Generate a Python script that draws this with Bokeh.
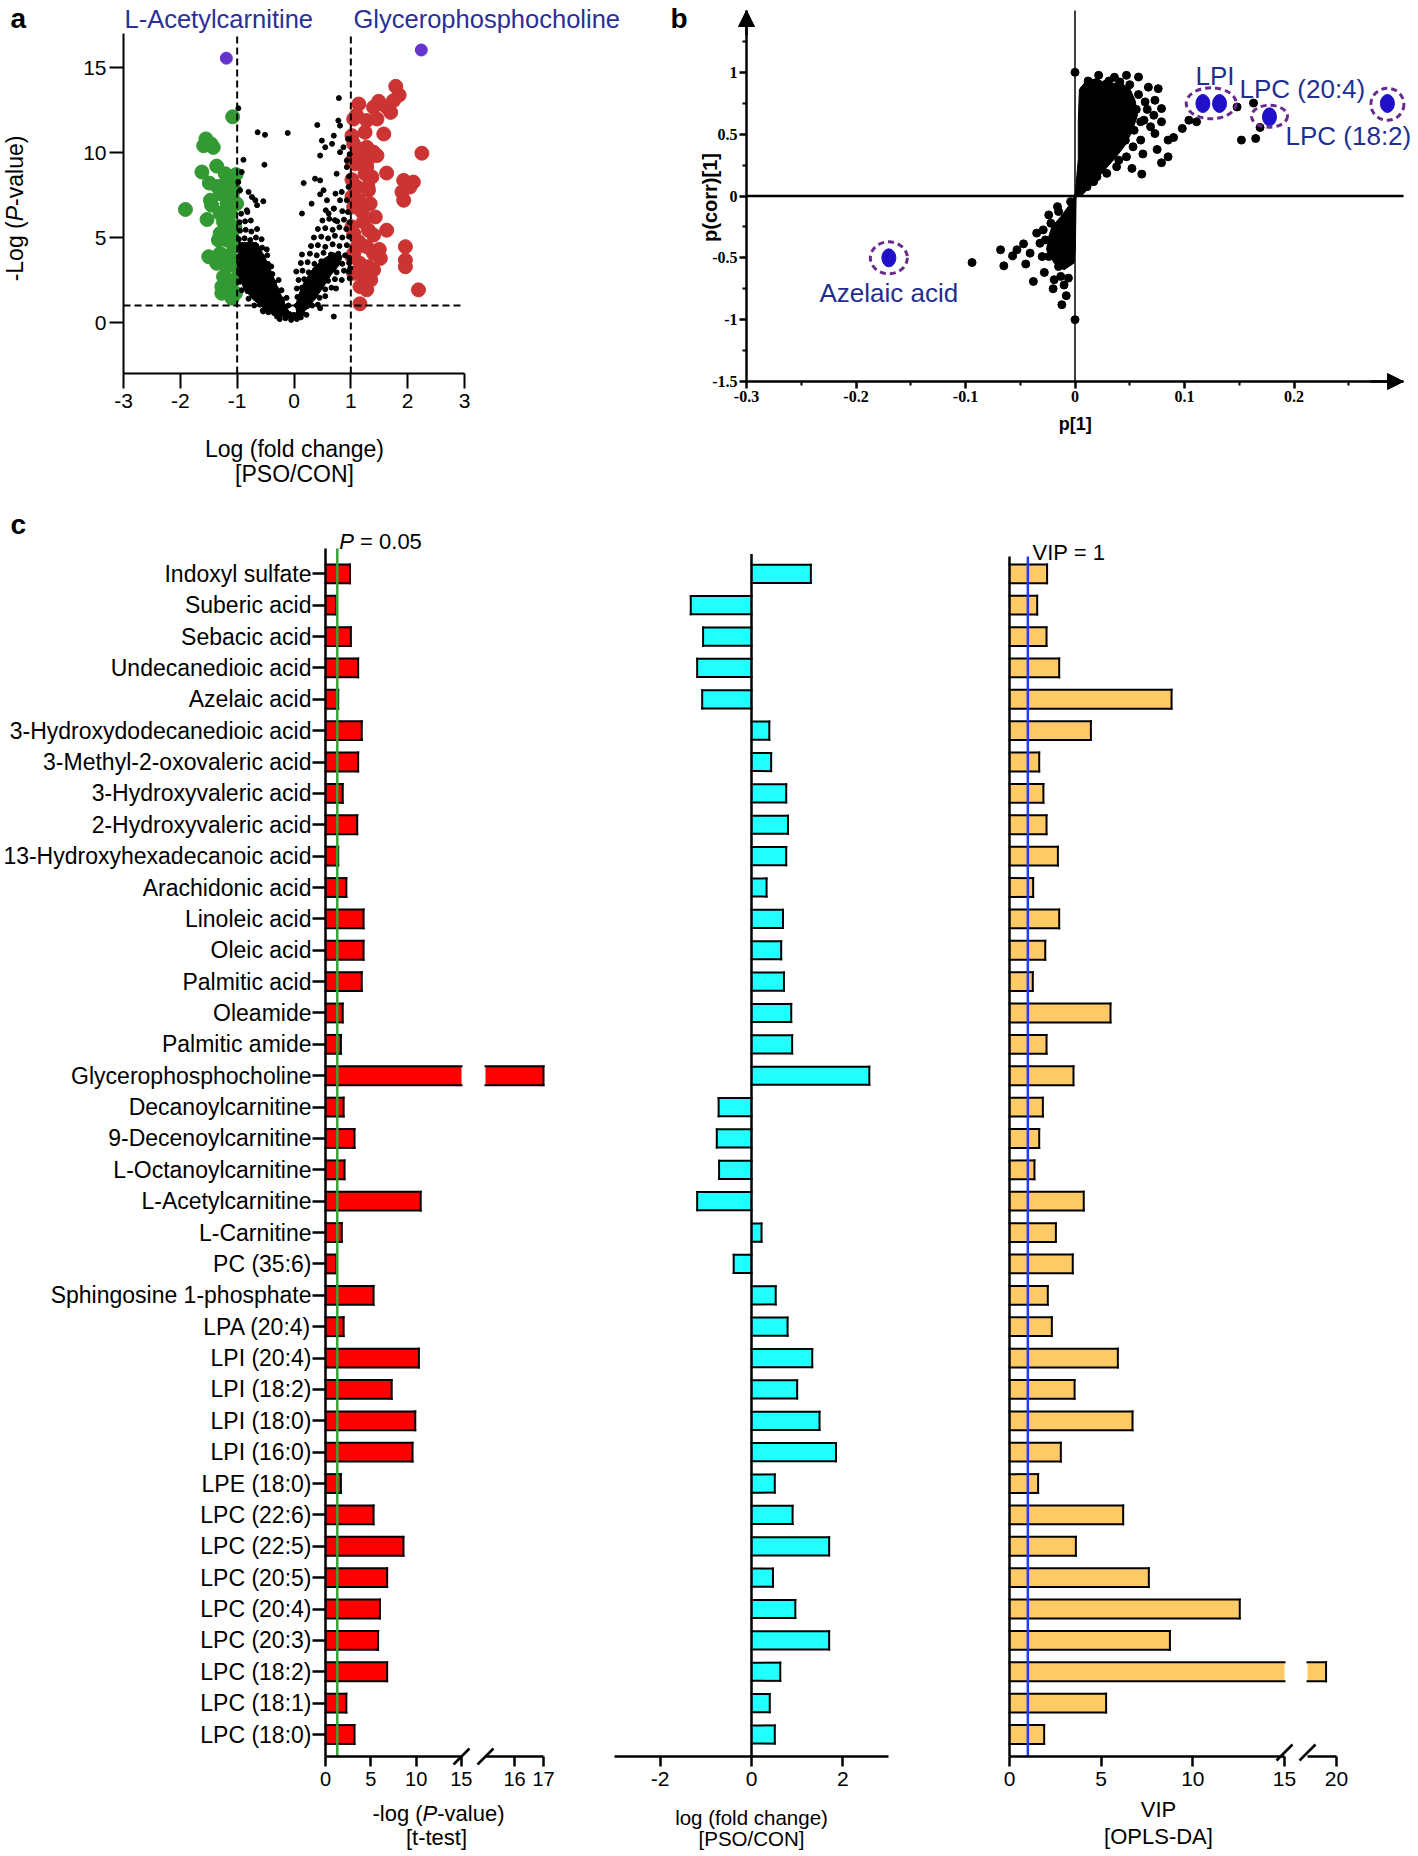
import math
from bokeh.plotting import figure
from bokeh.layouts import row, column
from bokeh.models import (Range1d, FixedTicker, Label, Arrow, NormalHead, ColumnDataSource,
                          CDSView, BooleanFilter)
from bokeh.transform import dodge
from bokeh.embed import file_html
from bokeh.resources import INLINE

SANS = "Liberation Sans"
NARROW = "Liberation Sans Narrow"

# ===================== DATA =====================
# ---- panel a : volcano plot ----
a_xticks = [-3, -2, -1, 0, 1, 2, 3]
a_yticks = [0, 5, 10, 15]
a_fc_cut = 1.0          # |log fold change| threshold
a_p_cut = 1.0           # -log p threshold line
a_green = [(-1.08, 12.1), (-1.55, 10.8), (-1.46, 10.5), (-1.59, 10.4), (-1.42, 10.3), (-1.36, 9.2),
           (-1.62, 8.85), (-1.21, 8.75), (-1.02, 8.7), (-1.49, 8.2), (-1.15, 8.26), (-1.91, 6.65),
           (-1.47, 7.19), (-1.30, 7.58), (-1.09, 7.38), (-1.01, 6.99), (-1.53, 6.06), (-1.30, 6.41),
           (-1.12, 6.41), (-1.24, 5.92), (-1.04, 5.63), (-1.33, 4.85), (-1.18, 4.85), (-1.06, 4.46),
           (-1.50, 3.87), (-1.30, 4.06), (-1.12, 3.77), (-1.36, 3.48), (-1.18, 3.28), (-1.01, 3.28),
           (-1.24, 2.70), (-1.06, 2.50), (-1.27, 2.11), (-1.12, 2.01), (-1.27, 1.72), (-1.03, 1.72),
           (-1.06, 4.85), (-1.45, 6.90), (-1.18, 6.99), (-1.30, 5.24), (-1.09, 1.43), (-1.18, 5.63),
           (-1.20, 8.2), (-1.10, 5.3), (-1.20, 3.9), (-1.05, 7.8), (-1.35, 8.0)]
a_red = [(1.79, 13.89), (1.85, 13.38), (1.75, 13.05), (1.49, 13.01), (1.63, 12.66), (1.14, 12.85),
         (1.40, 12.66), (1.70, 12.36), (1.05, 11.97), (1.28, 11.88), (1.46, 11.97), (1.25, 11.19),
         (1.58, 11.09), (1.02, 10.99), (1.05, 10.51), (1.28, 10.31), (1.40, 10.02), (1.46, 9.82),
         (1.14, 9.92), (1.31, 9.63), (2.25, 9.96), (1.08, 9.34), (1.28, 9.14), (1.63, 8.79),
         (1.93, 8.36), (2.10, 8.26), (2.04, 7.97), (1.90, 7.68), (1.93, 7.19), (1.25, 8.75),
         (1.37, 8.56), (1.11, 7.97), (1.31, 7.78), (1.14, 7.19), (1.34, 6.99), (1.05, 6.80),
         (1.43, 6.21), (1.22, 5.92), (1.31, 5.43), (1.63, 5.43), (1.05, 5.24), (1.40, 5.14),
         (1.14, 4.75), (1.28, 4.46), (1.40, 4.06), (1.05, 4.06), (1.52, 3.77), (1.96, 4.46),
         (1.96, 3.67), (1.96, 3.28), (1.16, 3.48), (1.31, 3.28), (1.05, 2.89), (1.22, 2.70),
         (1.40, 3.09), (1.16, 2.11), (1.28, 1.92), (2.19, 1.92), (1.16, 1.10), (1.02, 3.87),
         (1.02, 5.63), (1.20, 10.0), (1.30, 8.0), (1.20, 6.5), (1.10, 4.4), (1.35, 2.5),
         (1.50, 4.3), (1.02, 9.5), (1.02, 8.4), (1.02, 7.4), (1.10, 12.2)]
a_black = [
    (-0.25, 0.2), (-0.15, 0.25), (-0.05, 0.15), (0.05, 0.2), (0.12, 0.3), (-0.3, 0.35),
    (-0.45, 0.6), (-0.35, 0.55), (-0.25, 0.65), (-0.15, 0.6), (-0.08, 0.5), (0.0, 0.45), (-0.55, 0.7),
    (-0.7, 1.0), (-0.6, 1.05), (-0.5, 0.95), (-0.4, 1.0), (-0.3, 1.1), (-0.2, 0.95), (-0.1, 1.0),
    (-0.8, 1.4), (-0.7, 1.5), (-0.6, 1.35), (-0.5, 1.45), (-0.4, 1.4), (-0.3, 1.5), (-0.2, 1.35), (-0.13, 1.45),
    (-0.92, 1.9), (-0.82, 1.85), (-0.72, 2.0), (-0.62, 1.9), (-0.52, 1.95), (-0.42, 1.85), (-0.32, 2.0), (-0.22, 1.9),
    (-0.95, 2.4), (-0.85, 2.45), (-0.75, 2.35), (-0.65, 2.5), (-0.55, 2.4), (-0.45, 2.45), (-0.35, 2.35), (-0.27, 2.5),
    (-0.97, 2.9), (-0.87, 2.95), (-0.77, 2.85), (-0.67, 3.0), (-0.57, 2.9), (-0.47, 2.95), (-0.38, 2.85),
    (-0.96, 3.4), (-0.86, 3.45), (-0.76, 3.35), (-0.66, 3.5), (-0.56, 3.4), (-0.46, 3.45), (-0.40, 3.3),
    (-0.97, 3.9), (-0.87, 3.95), (-0.77, 3.85), (-0.67, 4.0), (-0.57, 3.9), (-0.47, 3.95),
    (-0.96, 4.4), (-0.86, 4.45), (-0.76, 4.35), (-0.66, 4.5), (-0.56, 4.4), (-0.48, 4.3),
    (-0.97, 4.9), (-0.87, 4.95), (-0.77, 4.85), (-0.67, 5.0), (-0.57, 4.9),
    (-0.95, 5.4), (-0.85, 5.45), (-0.75, 5.35), (-0.65, 5.5),
    (-0.96, 5.9), (-0.86, 5.95), (-0.76, 6.0), (-0.93, 6.4), (-0.82, 6.5),
    (0.08, 0.5), (0.15, 0.55), (0.22, 0.45),
    (0.05, 1.0), (0.14, 1.05), (0.23, 0.95), (0.32, 1.0), (0.42, 1.05),
    (0.06, 1.5), (0.15, 1.45), (0.25, 1.55), (0.35, 1.5), (0.45, 1.45), (0.55, 1.55),
    (0.05, 2.0), (0.14, 2.05), (0.24, 1.95), (0.34, 2.0), (0.44, 2.1), (0.55, 1.95), (0.66, 2.05), (0.74, 2.0),
    (0.08, 2.5), (0.18, 2.55), (0.28, 2.45), (0.38, 2.5), (0.48, 2.6), (0.6, 2.45), (0.72, 2.55), (0.84, 2.5),
    (0.04, 3.0), (0.15, 3.05), (0.26, 2.95), (0.37, 3.1), (0.5, 3.0), (0.62, 3.05), (0.75, 2.95), (0.88, 3.05), (0.96, 3.0),
    (0.12, 3.5), (0.24, 3.55), (0.36, 3.45), (0.48, 3.6), (0.6, 3.5), (0.72, 3.55), (0.85, 3.45), (0.97, 3.5),
    (0.14, 4.0), (0.28, 4.05), (0.4, 3.95), (0.52, 4.1), (0.65, 4.0), (0.78, 4.05), (0.9, 3.95),
    (0.3, 4.5), (0.42, 4.55), (0.55, 4.45), (0.68, 4.6), (0.8, 4.5), (0.93, 4.55),
    (0.35, 5.0), (0.48, 5.05), (0.6, 4.95), (0.72, 5.1), (0.85, 5.0), (0.97, 5.05),
    (0.42, 5.5), (0.55, 5.55), (0.68, 5.45), (0.8, 5.6), (0.92, 5.5),
    (0.5, 6.0), (0.62, 6.1), (0.76, 5.95), (0.88, 6.05), (0.56, 6.6), (0.7, 6.7), (0.85, 6.55),
    (0.98, 2.6), (0.99, 3.2), (0.97, 3.8),
    (-0.98, 12.6), (-0.64, 11.19), (-0.51, 11.04), (-0.11, 11.15), (-0.52, 9.28), (0.41, 11.62),
    (0.79, 13.2), (0.78, 11.88), (0.81, 11.58), (-0.89, 9.57), (-0.92, 8.85), (-0.98, 8.26),
    (-0.95, 7.78), (-0.80, 7.68), (-0.74, 7.38), (-0.68, 7.19), (-0.54, 7.13), (-0.65, 6.90),
    (-0.83, 6.60), (0.17, 8.20), (0.37, 8.46), (0.46, 8.36), (0.52, 7.78), (0.31, 6.99),
    (0.14, 6.41), (0.46, 7.54), (0.58, 7.19), (0.70, 6.70), (0.61, 6.41), (0.81, 7.19),
    (0.72, 6.02), (0.49, 10.70), (0.55, 10.31), (0.67, 10.51), (0.70, 10.99), (0.81, 10.02),
    (0.87, 10.31), (0.93, 9.53), (0.46, 9.82), (0.75, 8.75), (0.93, 9.14), (0.96, 7.97),
    (0.93, 7.19), (0.73, 7.58), (0.84, 7.68), (-0.54, 0.65), (0.46, 0.84), (0.70, 0.35),
    (0.95, 10.8), (0.98, 9.9), (0.97, 8.6), (0.95, 6.5), (0.98, 5.9)]
a_core_left = [(-0.97, 4.7), (-0.66, 4.7), (-0.52, 3.9), (-0.40, 3.0), (-0.28, 2.0), (-0.16, 1.1),
               (-0.06, 0.45), (0.06, 0.2), (0.10, 0.45), (0.02, 0.25), (-0.12, 0.25), (-0.32, 0.45),
               (-0.52, 0.8), (-0.72, 1.35), (-0.88, 2.0), (-0.97, 2.7)]
a_core_right = [(0.05, 0.5), (0.2, 0.7), (0.35, 1.3), (0.5, 2.0), (0.65, 2.8), (0.8, 3.4), (0.85, 3.9),
                (0.7, 4.1), (0.5, 3.7), (0.32, 3.1), (0.18, 2.4), (0.08, 1.6), (0.03, 1.0)]
a_top_x = [-1.19, 2.24]
a_top_y = [15.55, 16.03]
a_top_names = ["L-Acetylcarnitine", "Glycerophosphocholine"]

# ---- panel b : S-plot ----
b_xticks = [-0.3, -0.2, -0.1, 0, 0.1, 0.2]
b_xminor = [-0.25, -0.15, -0.05, 0.05, 0.15, 0.25]
b_yticks = [-1.5, -1, -0.5, 0, 0.5, 1]
b_yminor = [-1.25, -0.75, -0.25, 0.25, 0.75, 1.25]
b_pts = [(0.0, 1.0), (0.0, -1.0), (-0.094, -0.538), (-0.068, -0.435), (-0.065, -0.565), (-0.057, -0.484),
         (-0.047, -0.387), (-0.053, -0.435), (-0.038, -0.691), (-0.028, -0.618), (-0.019, -0.677),
         (-0.012, -0.879), (-0.008, -0.806), (-0.006, -0.664), (-0.013, -0.650), (-0.024, -0.153),
         (-0.029, -0.274), (-0.032, -0.382), (-0.030, -0.49), (-0.015, -0.126), (-0.004, -0.046),
         (-0.041, -0.462), (0.0216, 0.976), (0.029, 0.909), (0.047, 0.976), (0.058, 0.962),
         (0.041, 0.922), (0.076, 0.868), (0.073, 0.774), (0.064, 0.761), (0.079, 0.707), (0.072, 0.653),
         (0.079, 0.600), (0.063, 0.613), (0.073, 0.505), (0.085, 0.452), (0.090, 0.473), (0.075, 0.376),
         (0.085, 0.317), (0.079, 0.269), (0.061, 0.177), (0.052, 0.223), (0.060, 0.452), (0.054, 0.532),
         (0.098, 0.546), (0.104, 0.613), (0.111, 0.600), (0.148, 0.720), (0.152, 0.452), (0.163, 0.752),
         (0.165, 0.465), (0.169, 0.554), (0.040, 0.290), (0.029, 0.183), (0.017, 0.116), (0.008, 0.855),
         (0.010, 0.747), (0.017, 0.828), (0.026, 0.774), (0.035, 0.693), (0.044, 0.613), (0.050, 0.532),
         (0.053, 0.398), (0.047, 0.317), (0.038, 0.237), (0.020, 0.156), (0.011, 0.075),
         (-0.016, -0.086), (-0.022, -0.220), (-0.027, -0.355), (-0.024, -0.489), (-0.015, -0.570),
         (-0.004, -0.516), (0.066, 0.70), (0.058, 0.82), (0.069, 0.56), (0.062, 0.34), (0.031, 0.93),
         (0.012, 0.93), (-0.035, -0.30), (-0.020, -0.75), (-0.045, -0.55), (-0.010, -0.72),
         (0.036, 0.96), (0.050, 0.90), (0.044, 0.86), (0.067, 0.88), (0.056, 0.70), (0.060, 0.60),
         (0.046, 0.45), (0.032, 0.35), (0.024, 0.26), (0.014, 0.20), (0.006, 0.12)]
b_core_pos = [(0.0, -0.01), (0.003, 0.30), (0.003, 0.60), (0.004, 0.86), (0.010, 0.93), (0.020, 0.95),
              (0.030, 0.90), (0.040, 0.92), (0.050, 0.87), (0.055, 0.77), (0.057, 0.65), (0.052, 0.52),
              (0.045, 0.40), (0.036, 0.30), (0.026, 0.20), (0.016, 0.10), (0.007, 0.01)]
b_core_neg = [(0.0003, 0.0215), (-0.004, -0.059), (-0.013, -0.167), (-0.021, -0.247), (-0.024, -0.328),
              (-0.026, -0.435), (-0.019, -0.543), (-0.010, -0.597), (-0.001, -0.543), (0.0003, -0.435),
              (0.001, -0.005)]
b_hl_x = [-0.170, 0.1168, 0.132, 0.1776, 0.2853]
b_hl_y = [-0.50, 0.748, 0.748, 0.64, 0.748]
b_ring_x = [-0.170, 0.1244, 0.1776, 0.2853]
b_ring_y = [-0.50, 0.75, 0.645, 0.742]
b_names = ["Azelaic acid", "LPI", "LPC (20:4)", "LPC (18:2)"]

# ---- panel c : bar charts ----
metabolites = ["Indoxyl sulfate", "Suberic acid", "Sebacic acid", "Undecanedioic acid", "Azelaic acid",
               "3-Hydroxydodecanedioic acid", "3-Methyl-2-oxovaleric acid", "3-Hydroxyvaleric acid",
               "2-Hydroxyvaleric acid", "13-Hydroxyhexadecanoic acid", "Arachidonic acid", "Linoleic acid",
               "Oleic acid", "Palmitic acid", "Oleamide", "Palmitic amide", "Glycerophosphocholine",
               "Decanoylcarnitine", "9-Decenoylcarnitine", "L-Octanoylcarnitine", "L-Acetylcarnitine",
               "L-Carnitine", "PC (35:6)", "Sphingosine 1-phosphate", "LPA (20:4)", "LPI (20:4)",
               "LPI (18:2)", "LPI (18:0)", "LPI (16:0)", "LPE (18:0)", "LPC (22:6)", "LPC (22:5)",
               "LPC (20:5)", "LPC (20:4)", "LPC (20:3)", "LPC (18:2)", "LPC (18:1)", "LPC (18:0)"]
neglog_p = [2.7, 1.2, 2.8, 3.6, 1.4, 4.0, 3.6, 1.9, 3.5, 1.4, 2.3, 4.2, 4.2, 4.0, 1.9, 1.7, 17.0,
            2.0, 3.2, 2.1, 10.5, 1.8, 1.2, 5.3, 2.0, 10.3, 7.3, 9.9, 9.6, 1.7, 5.3, 8.6, 6.8, 6.0,
            5.8, 6.8, 2.3, 3.2]
log_fc = [1.30, -1.33, -1.06, -1.19, -1.08, 0.39, 0.43, 0.76, 0.80, 0.76, 0.33, 0.69, 0.65, 0.71,
          0.87, 0.89, 2.58, -0.72, -0.76, -0.71, -1.19, 0.22, -0.39, 0.53, 0.79, 1.33, 1.00, 1.49,
          1.85, 0.51, 0.90, 1.70, 0.47, 0.96, 1.70, 0.63, 0.40, 0.51]
vip = [2.05, 1.51, 2.02, 2.71, 8.84, 4.44, 1.62, 1.85, 2.02, 2.64, 1.29, 2.71, 1.95, 1.27, 5.51, 2.02,
       3.49, 1.82, 1.62, 1.36, 4.05, 2.53, 3.45, 2.09, 2.31, 5.91, 3.55, 6.71, 2.80, 1.56, 6.20, 3.62,
       7.60, 12.56, 8.75, 18.2, 5.27, 1.89]
p_threshold = 1.3     # -log10(0.05)
vip_threshold = 1.0
t_break, t_max = 15, 17
vip_break, vip_max = 15, 20
t_ticks_1, t_ticks_2 = [0, 5, 10, 15], [16, 17]
fc_ticks = [-2, 0, 2]
vip_ticks_1, vip_ticks_2 = [0, 5, 10, 15], [20]

# ===================== HELPERS =====================
NAVY = "#2b2f96"
NAVY_B = "#1f2f8f"
CW = {' ': 0.278, '-': 0.333, '(': 0.333, ')': 0.333, '[': 0.278, ']': 0.278, '/': 0.278, '=': 0.584,
      '.': 0.278, 'L': 0.556, 'o': 0.556, 'g': 0.556, 'l': 0.222, 'v': 0.5, 'a': 0.556, 'u': 0.556,
      'e': 0.556, 'P': 0.667, 't': 0.278, 's': 0.5, '0': 0.556, '5': 0.556, '1': 0.556}


def tw(s, size):
    return sum(CW.get(ch, 0.556) for ch in s) * size


class Map:
    """linear value <-> page-pixel map used to set ranges of full-canvas frames"""
    def __init__(self, v0, p0, v1, p1):
        self.v0, self.p0 = v0, p0
        self.s = (p1 - p0) / (v1 - v0)

    def val(self, px):
        return self.v0 + (px - self.p0) / self.s

    def rng(self, pa, pb):
        a, b = self.val(pa), self.val(pb)
        return Range1d(min(a, b), max(a, b))


def txt(p, fr, rx, ry, text, size, style="normal", color="black", align="left", angle=0.0, font=SANS):
    fl, fb = fr
    p.add_layout(Label(x=rx - fl, y=fb - ry, x_units="screen", y_units="screen", text=text,
                       text_font=font, text_font_size=f"{size}px", text_font_style=style,
                       text_color=color, text_align=align, text_baseline="middle", angle=angle))


def mixed(p, fr, x0, ry, parts, size, keep=None, center=True):
    total = sum(tw(t, size) for t, _ in parts)
    x = x0 - total / 2 if center else x0
    for i, (t, it) in enumerate(parts):
        body = t.lstrip(" ")
        lead = tw(t[:len(t) - len(body)], size)
        if (keep is None or i in keep) and body:
            txt(p, fr, x + lead, ry, body, size, style="italic" if it else "normal")
        x += tw(t, size)


def mixed_vert(p, fr, rx, cy, parts, size):
    total = sum(tw(t, size) for t, _ in parts)
    y = cy + total / 2
    for t, it in parts:
        txt(p, fr, rx, y, t, size, style="italic" if it else "normal", angle=math.pi / 2)
        y -= tw(t, size)


def slash(p, fr, rx, ry, half=8):
    fl, fb = fr
    p.add_layout(Arrow(start=None, end=None, x_start=rx - fl - half, y_start=fb - ry - half,
                       x_end=rx - fl + half, y_end=fb - ry + half, start_units="screen",
                       end_units="screen", line_color="black", line_width=2.5))


def fig(w, h, xr, yr, **kw):
    p = figure(width=w, height=h, x_range=xr, y_range=yr, output_backend="svg",
               toolbar_location=None, min_border_left=0, min_border_right=0,
               min_border_top=0, min_border_bottom=0, **kw)
    p.grid.visible = False
    p.outline_line_color = None
    return p


def style_axis(ax, size, tick_out, standoff, lw=2.0, font=SANS, fstyle="normal"):
    ax.axis_line_width = lw
    ax.axis_line_color = "black"
    ax.major_tick_line_width = lw
    ax.major_tick_line_color = "black"
    ax.major_tick_out = tick_out
    ax.major_tick_in = 0
    ax.minor_tick_line_color = None
    ax.major_label_text_font = font
    ax.major_label_text_font_size = f"{size}px"
    ax.major_label_text_font_style = fstyle
    ax.major_label_text_color = "black"
    ax.major_label_standoff = standoff


def unzip(pairs):
    return [q[0] for q in pairs], [q[1] for q in pairs]


# ===================== PANEL a =====================
FA = (0, 508)
ax_a = Map(-3, 123, 3, 464)
ay_a = Map(-3, 373, 17, 33)
pa = fig(648, 508, ax_a.rng(0, 648), ay_a.rng(0, 508))
pa.xaxis.fixed_location = -3
pa.xaxis.bounds = (-3, 3)
pa.yaxis.fixed_location = -3
pa.yaxis.bounds = (-3, 17)
pa.xaxis.ticker = FixedTicker(ticks=a_xticks)
pa.xaxis.major_label_overrides = {t: str(t) for t in a_xticks}
pa.yaxis.ticker = FixedTicker(ticks=a_yticks)
pa.yaxis.major_label_overrides = {t: str(t) for t in a_yticks}
style_axis(pa.xaxis[0], 21, 15, 5)
style_axis(pa.yaxis[0], 21, 14, 3)

gx, gy = unzip(a_green)
rx_, ry_ = unzip(a_red)
bx, by = unzip(a_black)
pa.scatter(gx, gy, size=14, fill_color="#339933", line_color="#339933")
pa.scatter(rx_, ry_, size=14, fill_color="#cc3333", line_color="#cc3333")
for core in (a_core_left, a_core_right):
    cx_, cy_ = unzip(core)
    pa.patch(cx_, cy_, fill_color="black", line_color="black", line_width=1)
pa.scatter(bx, by, size=5, fill_color="black", line_color="black")
pa.scatter(a_top_x, a_top_y, size=12, fill_color="#6633cc", line_color="#6633cc")
pa.segment(x0=[-a_fc_cut, a_fc_cut, -3], y0=[-3, -3, a_p_cut], x1=[-a_fc_cut, a_fc_cut, 3],
           y1=[17, 17, a_p_cut], line_dash="7 4", line_width=2, line_color="black")

txt(pa, FA, 10, 18, "a", 28, style="bold")
txt(pa, FA, 124, 18, a_top_names[0], 25.5, color=NAVY)
txt(pa, FA, 353, 18, a_top_names[1], 25.5, color=NAVY)
txt(pa, FA, 294, 448, "Log (fold change)", 23, align="center")
txt(pa, FA, 294, 473, "[PSO/CON]", 23, align="center")
mixed_vert(pa, FA, 14, 208, [("-Log (", False), ("P", True), ("-value)", False)], 23)

# ===================== PANEL b =====================
FB = (648, 508)
ax_b = Map(-0.3, 746, 0.3, 1403)
ay_b = Map(-1.5, 381, 1.5, 10)
pb = fig(766, 508, ax_b.rng(648, 1414), ay_b.rng(0, 508))
pb.xaxis.fixed_location = -1.5
pb.xaxis.bounds = (-0.3, 0.3)
pb.yaxis.fixed_location = -0.3
pb.yaxis.bounds = (-1.5, 1.5)
pb.xaxis.ticker = FixedTicker(ticks=b_xticks, minor_ticks=b_xminor)
pb.xaxis.major_label_overrides = {t: str(t) for t in b_xticks}
pb.yaxis.ticker = FixedTicker(ticks=b_yticks, minor_ticks=b_yminor)
pb.yaxis.major_label_overrides = {t: str(t) for t in b_yticks}
for ax in (pb.xaxis[0], pb.yaxis[0]):
    style_axis(ax, 16, 7, 2, lw=2.5, font=NARROW, fstyle="bold")
    ax.minor_tick_line_color = "black"
    ax.minor_tick_line_width = 2
    ax.minor_tick_out = 4
    ax.minor_tick_in = 0

for core in (b_core_pos, b_core_neg):
    cx_, cy_ = unzip(core)
    pb.patch(cx_, cy_, fill_color="black", line_color="black", line_width=1)
bpx, bpy = unzip(b_pts)
pb.scatter(bpx, bpy, size=8, fill_color="black", line_color="black")
pb.segment(x0=[0], y0=[-1.5], x1=[0], y1=[1.5], line_width=1.5, line_color="black")
pb.segment(x0=[-0.3], y0=[0], x1=[0.3], y1=[0], line_width=2.5, line_color="black")
pb.ellipse(b_hl_x, b_hl_y, width=14, height=18, width_units="screen", height_units="screen",
           fill_color="#2010c8", line_color="#2010c8")
ring_w = [37, 50, 36, 33]
ring_h = [32, 31, 22, 32]
pb.ellipse(b_ring_x, b_ring_y, width=ring_w, height=ring_h, width_units="screen", height_units="screen",
           fill_color=None, line_color="#6a2a8c", line_width=3, line_dash="6 4")
pb.add_layout(Arrow(x_start=-0.3, y_start=1.3, x_end=-0.3, y_end=1.5, line_width=2.5,
                    end=NormalHead(size=16, fill_color="black", line_color="black")))
pb.add_layout(Arrow(x_start=0.27, y_start=-1.5, x_end=0.3, y_end=-1.5, line_width=2.5,
                    end=NormalHead(size=16, fill_color="black", line_color="black")))

txt(pb, FB, 670, 18, "b", 28, style="bold")
txt(pb, FB, 709.5, 197, "p(corr)[1]", 20, style="bold", align="center", angle=math.pi / 2)
txt(pb, FB, 1074.7, 423, "p[1]", 18, style="bold", align="center")
for name, (lx, ly) in zip(b_names, [(819, 292), (1195, 75), (1239, 88), (1285, 135)]):
    txt(pb, FB, lx, ly, name, 26, color=NAVY_B)

# ===================== PANEL c =====================
N = len(metabolites)
ypos = [N - 1 - i for i in range(N)]
TOP, BOT = 508, 1852
H2 = BOT - TOP
ay_c = Map(0, 1734, N - 1, 573.3)
y_axis0 = ay_c.val(1756)

src = ColumnDataSource(dict(y=ypos, name=metabolites, p=neglog_p,
                            p1=[min(v, t_break) for v in neglog_p], fc=log_fc,
                            vip=vip, vip1=[min(v, vip_break) for v in vip]))
t_whole = [v <= t_break for v in neglog_p]
t_broken = [v > t_break for v in neglog_p]
v_whole = [v <= vip_break for v in vip]
v_broken = [v > vip_break for v in vip]
all_rows = [True] * N


def draw_bars(p, left, right, color, h, cap_rows, rows=None):
    kw = dict(source=src)
    if rows is not None:
        kw["view"] = CDSView(filter=BooleanFilter(rows))
    p.hbar(y="y", left=left, right=right, height=h, fill_color=color, line_color=None, **kw)
    for off in (h / 2, -h / 2):
        kw2 = dict(source=src)
        if rows is not None:
            kw2["view"] = CDSView(filter=BooleanFilter(rows))
        p.segment(x0=left, y0=dodge("y", off), x1=right, y1=dodge("y", off), line_color="black",
                  line_width=2, line_cap="square", **kw2)
    p.segment(x0=right, y0=dodge("y", -h / 2), x1=right, y1=dodge("y", h / 2), line_color="black",
              line_width=2, line_cap="square", source=src, view=CDSView(filter=BooleanFilter(cap_rows)))


def c_fig(left, right, xmap, with_y=False):
    kw = {} if with_y else {"y_axis_location": None}
    p = fig(right - left, H2, xmap.rng(left, right), ay_c.rng(TOP, BOT), **kw)
    p.xaxis.fixed_location = y_axis0
    return p


# c1 (t-test), broken axis
ax_c1a = Map(0, 325, 15, 461)
ax_c1b = Map(15, 485, 17, 543)
FC1A, FC1B = (0, BOT), (472, BOT)
c1a = c_fig(0, 472, ax_c1a, with_y=True)
c1b = c_fig(472, 560, ax_c1b)
draw_bars(c1a, 0, "p1", "#ff0000", 0.6, t_whole)
draw_bars(c1b, t_break, "p", "#ff0000", 0.6, t_broken, rows=t_broken)
c1a.xaxis.bounds = (0, t_break)
c1b.xaxis.bounds = (t_break, t_max)
c1a.xaxis.ticker = FixedTicker(ticks=t_ticks_1)
c1b.xaxis.ticker = FixedTicker(ticks=t_ticks_2)
for p in (c1a, c1b):
    style_axis(p.xaxis[0], 20, 10, 5, lw=2.5)
c1a.yaxis.fixed_location = 0
c1a.yaxis.bounds = (y_axis0, ay_c.val(548))
c1a.yaxis.ticker = FixedTicker(ticks=ypos)
c1a.yaxis.major_label_overrides = {y: n for y, n in zip(ypos, metabolites)}
style_axis(c1a.yaxis[0], 23, 13, 1, lw=2.5)
c1a.segment(x0=[p_threshold], y0=[y_axis0], x1=[p_threshold], y1=[ay_c.val(548)],
            line_color="#35a535", line_width=2.5)
slash(c1a, FC1A, 461, 1756)
slash(c1b, FC1B, 485, 1756)
txt(c1a, FC1A, 10, 524, "c", 28, style="bold")
mixed(c1a, FC1A, 325 + p_threshold * 136 / 15 + 2, 541, [("P", True), (" = 0.05", False)], 22, center=False)
t_title = [("-log (", False), ("P", True), ("-val", False), ("ue)", False)]
mixed(c1a, FC1A, 438, 1813, t_title, 22, keep={0, 1, 2})
mixed(c1b, FC1B, 438, 1813, t_title, 22, keep={3})
txt(c1a, FC1A, 436, 1837, "[t-test]", 22, align="center")

# c2 (fold change)
ax_c2 = Map(-3, 614, 3, 888)
FC2 = (560, BOT)
c2 = c_fig(560, 950, ax_c2)
draw_bars(c2, 0, "fc", "#22ffff", 0.58, all_rows)
c2.xaxis.bounds = (-3, 3)
c2.xaxis.ticker = FixedTicker(ticks=fc_ticks)
c2.xaxis.major_label_overrides = {t: str(t) for t in fc_ticks}
style_axis(c2.xaxis[0], 21, 10, 5, lw=2.5)
c2.segment(x0=[0], y0=[y_axis0], x1=[0], y1=[ay_c.val(553.5)], line_color="black", line_width=2.5)
txt(c2, FC2, 751, 1817, "log (fold change)", 20.5, align="center")
txt(c2, FC2, 751, 1838, "[PSO/CON]", 20.5, align="center")

# c3 (VIP), broken axis
ax_c3a = Map(0, 1009, 15, 1284)
ax_c3b = Map(15, 1307, 20, 1336)
FC3A, FC3B = (950, BOT), (1297, BOT)
c3a = c_fig(950, 1297, ax_c3a, with_y=True)
c3b = c_fig(1297, 1414, ax_c3b)
draw_bars(c3a, 0, "vip1", "#fdca66", 0.6, v_whole)
draw_bars(c3b, vip_break, "vip", "#fdca66", 0.6, v_broken, rows=v_broken)
c3a.xaxis.bounds = (0, vip_break)
c3b.xaxis.bounds = (vip_break, vip_max)
c3a.xaxis.ticker = FixedTicker(ticks=vip_ticks_1)
c3b.xaxis.ticker = FixedTicker(ticks=vip_ticks_2)
for p in (c3a, c3b):
    style_axis(p.xaxis[0], 21, 10, 5, lw=2.5)
c3a.yaxis.fixed_location = 0
c3a.yaxis.bounds = (y_axis0, ay_c.val(556))
c3a.yaxis.ticker = FixedTicker(ticks=[])
style_axis(c3a.yaxis[0], 1, 0, 0, lw=2.5)
c3a.segment(x0=[vip_threshold], y0=[y_axis0], x1=[vip_threshold], y1=[ay_c.val(556)],
            line_color="#1f3cff", line_width=2.5)
slash(c3a, FC3A, 1284, 1752)
slash(c3b, FC3B, 1307, 1752)
txt(c3a, FC3A, 1032, 552, "VIP = 1", 22)
txt(c3a, FC3A, 1158, 1809, "VIP", 22, align="center")
txt(c3a, FC3A, 1158, 1836, "[OPLS-DA]", 22, align="center")

layout = column(row(pa, pb), row(c1a, c1b, c2, c3a, c3b))
open("out.html", "w").write(file_html(layout, INLINE))
